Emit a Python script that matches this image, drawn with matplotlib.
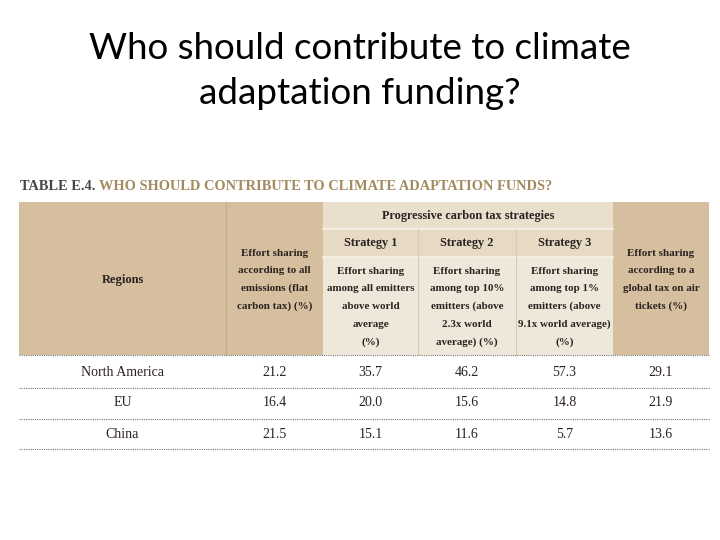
import matplotlib.pyplot as plt
from matplotlib.patches import Rectangle

# Data
regions = ["North America", "EU", "China"]
flat_tax = [21.2, 16.4, 21.5]
strategy_1 = [35.7, 20.0, 15.1]
strategy_2 = [46.2, 15.6, 11.6]
strategy_3 = [57.3, 14.8, 5.7]
air_tickets = [29.1, 21.9, 13.6]

title = "Who should contribute to climate\nadaptation funding?"
caption_lead = "TABLE E.4. "
caption_text = "WHO SHOULD CONTRIBUTE TO CLIMATE ADAPTATION FUNDS?"
group_header = "Progressive carbon tax strategies"
strategy_names = ["Strategy 1", "Strategy 2", "Strategy 3"]
col_headers = [
    "Effort sharing\naccording to all\nemissions (flat\ncarbon tax) (%)",
    "Effort sharing\namong all emitters\nabove world\naverage\n(%)",
    "Effort sharing\namong top 10%\nemitters (above\n2.3x world\naverage) (%)",
    "Effort sharing\namong top 1%\nemitters (above\n9.1x world average)\n(%)",
    "Effort sharing\naccording to a\nglobal tax on air\ntickets (%)",
]

tan = "#d5bf9f"
light = "#e9dfcc"
lighter = "#efe8da"
ink = "#2b2220"
gold = "#a38b5f"
serif = "Liberation Serif"

fig = plt.figure(figsize=(7.2, 5.4), dpi=100)
ax = fig.add_axes([0, 0, 1, 1])
ax.set_xlim(0, 720)
ax.set_ylim(540, 0)
ax.axis("off")

# slide title
ax.text(360, 71, title, ha="center", va="center", fontsize=26.5,
        family="Lato", linespacing=1.45, color="black")

# table caption
t = ax.text(20, 186, caption_lead, ha="left", va="center", fontsize=10.4,
            family=serif, weight="bold", color="#4a4444")
fig.canvas.draw()
bb = t.get_window_extent().transformed(ax.transData.inverted())
ax.text(bb.x1, 186, caption_text, ha="left", va="center", fontsize=10.4,
        family=serif, weight="bold", color=gold)

# column layout
edges = [19, 226, 323, 418, 516, 613, 709]
centers = [(a + b) / 2 for a, b in zip(edges[:-1], edges[1:])]
top, row_a, row_b, head_bot = 202, 229, 257, 355

# header backgrounds
ax.add_patch(Rectangle((edges[0], top), edges[2] - edges[0], head_bot - top, color=tan, lw=0))
ax.add_patch(Rectangle((edges[5], top), edges[6] - edges[5], head_bot - top, color=tan, lw=0))
ax.add_patch(Rectangle((edges[2], top), edges[5] - edges[2], row_a - top, color=light, lw=0))
ax.add_patch(Rectangle((edges[2], row_a), edges[5] - edges[2], row_b - row_a, color="#e6dac5", lw=0))
ax.add_patch(Rectangle((edges[2], row_b), edges[5] - edges[2], head_bot - row_b, color=lighter, lw=0))

ax.plot([edges[1], edges[1]], [top, head_bot], color="#c2ab89", lw=0.8)
for y in [row_a, row_b]:
    ax.plot([edges[2], edges[5]], [y, y], color="#f6f1e8", lw=1.2)
for x in edges[3:5]:
    ax.plot([x, x], [row_a, head_bot], color="#d8cbb4", lw=0.8)

hs = 7.9
step = 17.8


def header_block(x, y_first, txt):
    # one line at a time so the spacing matches the printed table
    for k, line in enumerate(txt.split("\n")):
        ax.text(x, y_first + k * step, line, ha="center", va="center",
                fontsize=hs, family=serif, weight="bold", color=ink)


ax.text(centers[0], 280, "Regions", ha="center", va="center", fontsize=9,
        family=serif, weight="bold", color=ink)
header_block(centers[1], 253, col_headers[0])
ax.text(468, 216, group_header, ha="center", va="center", fontsize=8.8,
        family=serif, weight="bold", color=ink)
for i in range(3):
    ax.text(centers[2 + i], 243, strategy_names[i], ha="center", va="center",
            fontsize=8.8, family=serif, weight="bold", color=ink)
    header_block(centers[2 + i], 271, col_headers[1 + i])
header_block(centers[5], 253, col_headers[4])

# body rows
row_y = [372, 403, 434]
line_y = [head_bot, 388, 419, 449]
for y in line_y:
    ax.plot([edges[0], edges[6]], [y, y], color="#777777", lw=0.8, ls=(0, (1, 1)))

columns = [flat_tax, strategy_1, strategy_2, strategy_3, air_tickets]
for r, name in enumerate(regions):
    ax.text(centers[0], row_y[r], name, ha="center", va="center", fontsize=10,
            family=serif, color=ink)
    for c, vals in enumerate(columns):
        ax.text(centers[c + 1], row_y[r], f"{vals[r]:.1f}", ha="center", va="center",
                fontsize=10, family=serif, color=ink)

fig.savefig("out.png", dpi=100)
